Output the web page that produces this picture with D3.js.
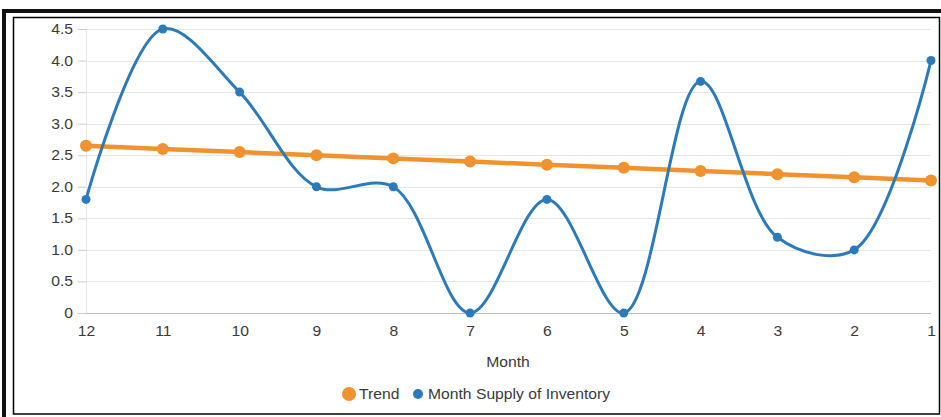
<!DOCTYPE html>
<html>
<head>
<meta charset="utf-8">
<script src="https://cdn.jsdelivr.net/npm/d3@7"></script>
<style>
  html, body { margin: 0; padding: 0; background: #fff; }
  svg { display: block; font-family: "Liberation Sans", Arial, sans-serif; }
</style>
</head>
<body>
<svg id="chart" width="941" height="417"></svg>
<script>
const months = ["12","11","10","9","8","7","6","5","4","3","2","1"];
const supply = [1.8, 4.5, 3.5, 2.0, 2.0, 0, 1.8, 0, 3.67, 1.2, 1.0, 4.0];
const trend  = [2.65, 2.6, 2.55, 2.5, 2.45, 2.4, 2.35, 2.3, 2.25, 2.2, 2.15, 2.1];
const yTicks = [0, 0.5, 1.0, 1.5, 2.0, 2.5, 3.0, 3.5, 4.0, 4.5];
const seriesNames = ["Trend", "Month Supply of Inventory"];
const colors = { trend: "#f0922e", supply: "#2b7bba" };

const SX = 1.12;       // horizontal stretch of the reference's text
const FS = "14px";
const TXT = "#3a3a3a";

const svg = d3.select("#chart");

// frame
svg.append("rect").attr("x", 4).attr("y", 11).attr("width", 945).attr("height", 420)
  .attr("fill", "none").attr("stroke", "#111").attr("stroke-width", 4);
svg.append("rect").attr("x", 13.5).attr("y", 17.5).attr("width", 926).attr("height", 396.5)
  .attr("fill", "none").attr("stroke", "#000").attr("stroke-width", 1.5);

const x = d3.scalePoint().domain(months).range([86, 931]);
const y = d3.scaleLinear().domain([0, 4.5]).range([313, 29]);

// gridlines
svg.append("g").selectAll("line").data(yTicks.slice(1)).join("line")
  .attr("x1", 86).attr("x2", 931)
  .attr("y1", d => Math.round(y(d)) + 0.5).attr("y2", d => Math.round(y(d)) + 0.5)
  .attr("stroke", "#e6e6e6").attr("stroke-width", 1);
svg.append("line").attr("x1", 86.5).attr("x2", 86.5).attr("y1", y(4.5)).attr("y2", y(0))
  .attr("stroke", "#e6e6e6");

// y axis
const yAxis = d3.axisLeft(y).tickValues(yTicks)
  .tickFormat(d => d === 0 ? "0" : d3.format(".1f")(d)).tickSize(8).tickPadding(3.6);
const gy = svg.append("g").attr("transform", "translate(86,0)").call(yAxis);
gy.select(".domain").remove();
gy.selectAll(".tick line").attr("stroke", "#cccccc");
gy.selectAll(".tick text").attr("fill", TXT).style("font-size", FS)
  .attr("transform", `scale(${SX},1)`);

// x axis
const xAxis = d3.axisBottom(x).tickSize(0).tickPadding(13);
const gx = svg.append("g").attr("transform", "translate(0,313)").call(xAxis);
gx.select(".domain").attr("stroke", "#bdbdbd").attr("d", "M86,0.5H931");
gx.selectAll(".tick text").attr("fill", TXT).style("font-size", FS)
  .attr("transform", `scale(${SX},1)`);

function label(px, py, str, anchor) {
  svg.append("text").attr("transform", `translate(${px},${py}) scale(${SX},1)`)
    .attr("text-anchor", anchor).attr("fill", TXT).style("font-size", FS).text(str);
}
label(508, 367, "Month", "middle");

// trend line
const lineT = d3.line().x((d, i) => x(months[i])).y(d => y(d));
svg.append("path").datum(trend).attr("d", lineT).attr("fill", "none")
  .attr("stroke", colors.trend).attr("stroke-width", 4.5).attr("stroke-linecap", "round");
svg.append("g").selectAll("circle").data(trend).join("circle")
  .attr("cx", (d, i) => x(months[i])).attr("cy", d => y(d)).attr("r", 6)
  .attr("fill", colors.trend);

// supply line
const lineS = d3.line().x((d, i) => x(months[i])).y(d => y(d)).curve(d3.curveCatmullRom.alpha(0.5));
svg.append("path").datum(supply).attr("d", lineS).attr("fill", "none")
  .attr("stroke", colors.supply).attr("stroke-width", 3);
svg.append("g").selectAll("circle").data(supply).join("circle")
  .attr("cx", (d, i) => x(months[i])).attr("cy", d => y(d)).attr("r", 4.5)
  .attr("fill", colors.supply);

// legend
svg.append("circle").attr("cx", 349).attr("cy", 394).attr("r", 7).attr("fill", colors.trend);
label(359, 399, seriesNames[0], "start");
svg.append("circle").attr("cx", 418).attr("cy", 394).attr("r", 5).attr("fill", colors.supply);
label(428, 399, seriesNames[1], "start");
</script>
</body>
</html>
